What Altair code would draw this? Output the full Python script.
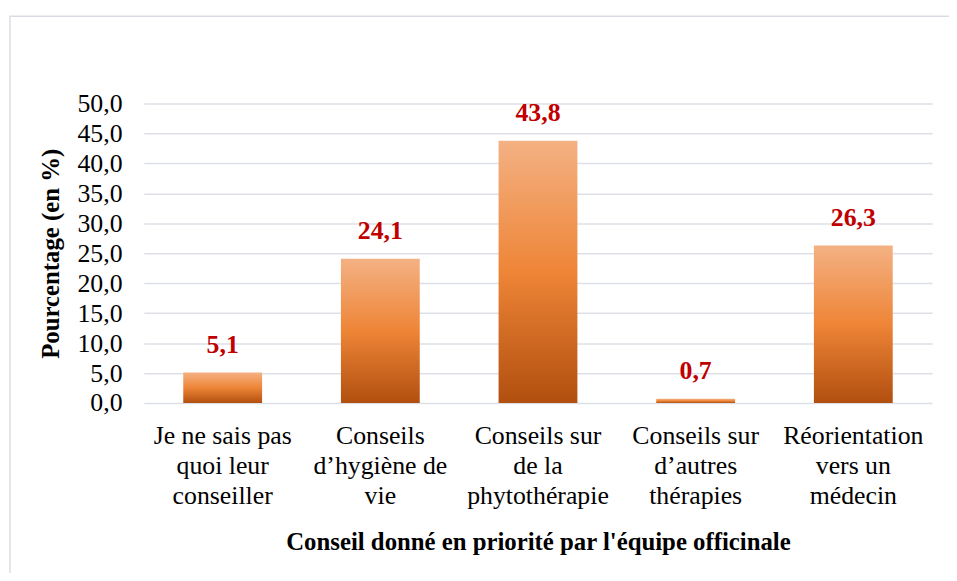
import altair as alt
import pandas as pd

categories = [
    "Je ne sais pas\nquoi leur\nconseiller",
    "Conseils\nd\u2019hygiène de\nvie",
    "Conseils sur\nde la\nphytothérapie",
    "Conseils sur\nd\u2019autres\nthérapies",
    "Réorientation\nvers un\nmédecin",
]
values = [5.1, 24.1, 43.8, 0.7, 26.3]
value_labels = ["5,1", "24,1", "43,8", "0,7", "26,3"]
y_ticks = [0, 5, 10, 15, 20, 25, 30, 35, 40, 45, 50]

df = pd.DataFrame({"cat": categories, "val": values, "lab": value_labels})

FONT = "Liberation Serif"
W, H = 795, 302

x_enc = alt.X(
    "cat:N", sort=None,
    scale=alt.Scale(paddingInner=0.5, paddingOuter=0.25),
    axis=alt.Axis(
        title="Conseil donné en priorité par l'équipe officinale",
        labelAngle=0, labelExpr="split(datum.label, '\\n')",
        labelFont=FONT, labelFontSize=26, labelColor="black",
        labelLineHeight=30, labelPadding=20, labelBaseline="top",
        labelOverlap=False, labelLimit=0,
        titleFont=FONT, titleFontSize=25, titleFontWeight="bold", titleColor="black",
        titlePadding=22, domain=False, ticks=False,
    ),
)
y_enc = alt.Y(
    "val:Q",
    scale=alt.Scale(domain=[0, 50], nice=False),
    axis=alt.Axis(
        title="Pourcentage (en %)", values=y_ticks,
        labelExpr="replace(format(datum.value, '.1f'), '.', ',')",
        labelFont=FONT, labelFontSize=26, labelColor="black", labelPadding=22,
        labelOverlap=False,
        titleFont=FONT, titleFontSize=25, titleFontWeight="bold", titleColor="black",
        titlePadding=14, domain=False, ticks=False,
        grid=True, gridColor="#DDE1E7", gridWidth=1.5,
    ),
)

grad = alt.Gradient(
    gradient="linear", x1=0, y1=0, x2=0, y2=1,
    stops=[
        alt.GradientStop(color="#F4B183", offset=0),
        alt.GradientStop(color="#EE8537", offset=0.5),
        alt.GradientStop(color="#B14F0F", offset=1),
    ],
)

bars = alt.Chart(df).mark_bar(color=grad).encode(x=x_enc, y=y_enc)

text = alt.Chart(df).mark_text(
    font=FONT, fontSize=26, fontWeight="bold", color="#C00000",
    baseline="bottom", dy=-15,
).encode(x=x_enc, y=y_enc, text="lab:N")

border = alt.Chart(pd.DataFrame({"a": [0]})).mark_rect(
    fill=None, stroke="#D9DDE3", strokeWidth=1.5
).encode(
    x=alt.value(-135), x2=alt.value(825), y=alt.value(-88), y2=alt.value(478)
)

chart = alt.layer(border, bars, text).properties(
    width=W, height=H,
    autosize=alt.AutoSizeParams(type="none"),
    padding={"left": 137, "top": 94, "right": 17, "bottom": 169},
).configure_view(stroke=None)

chart.save("out.html", embed_options={"renderer": "svg", "actions": False})
